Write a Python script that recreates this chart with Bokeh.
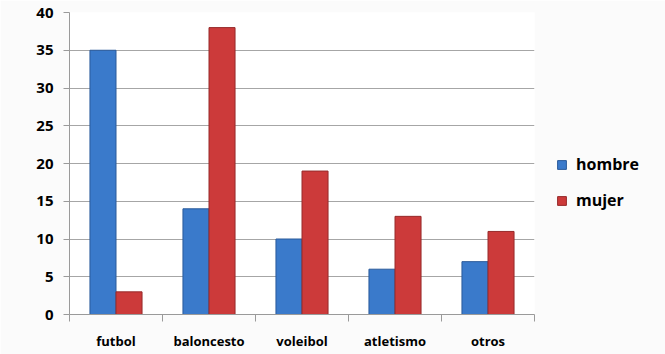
from bokeh.plotting import figure
from bokeh.models import ColumnDataSource, FixedTicker, Legend, LegendItem, Range1d
from bokeh.embed import file_html
from bokeh.resources import INLINE

categories = ["futbol", "baloncesto", "voleibol", "atletismo", "otros"]
hombre = [35, 14, 10, 6, 7]
mujer = [3, 38, 19, 13, 11]
y_ticks = [0, 5, 10, 15, 20, 25, 30, 35, 40]

bar_w = 0.28
centers = [i + 0.5 for i in range(len(categories))]

src_h = ColumnDataSource(dict(x=[c - bar_w / 2 for c in centers], top=hombre))
src_m = ColumnDataSource(dict(x=[c + bar_w / 2 for c in centers], top=mujer))

p = figure(frame_width=465, frame_height=302, output_backend="svg", toolbar_location=None,
           x_range=Range1d(0, len(categories)), y_range=Range1d(0, 40))
p.min_border_left = 69
p.min_border_top = 12
p.min_border_bottom = 40
p.min_border_right = 131
p.background_fill_color = "white"
p.border_fill_color = "#fbfbfb"
p.outline_line_color = None

r_h = p.vbar(x="x", top="top", width=bar_w, source=src_h,
             fill_color="#3a7acb", line_color="#2a5a9a", line_width=1)
r_m = p.vbar(x="x", top="top", width=bar_w, source=src_m,
             fill_color="#cc3a3a", line_color="#962a2a", line_width=1)

# x axis: labels at centers, ticks at boundaries
p.xaxis.ticker = FixedTicker(ticks=centers, minor_ticks=list(range(len(categories) + 1)))
p.xaxis.major_label_overrides = {c: categories[i] for i, c in enumerate(centers)}
p.xaxis.major_tick_line_color = None
p.xaxis.minor_tick_line_color = "#9a9a9a"
p.xaxis.minor_tick_in = 0
p.xaxis.minor_tick_out = 7
p.xaxis.axis_line_color = "#9a9a9a"
p.xaxis.major_label_standoff = 10
p.xaxis.major_label_text_font = "Open Sans"
p.xaxis.major_label_text_font_style = "bold"
p.xaxis.major_label_text_font_size = "13px"
p.xaxis.major_label_text_color = "black"

p.yaxis.ticker = FixedTicker(ticks=y_ticks)
p.yaxis.major_tick_line_color = "#9a9a9a"
p.yaxis.major_tick_in = 0
p.yaxis.major_tick_out = 6
p.yaxis.minor_tick_line_color = None
p.yaxis.axis_line_color = "#9a9a9a"
p.yaxis.major_label_standoff = 10
p.yaxis.major_label_text_font = "Open Sans"
p.yaxis.major_label_text_font_style = "bold"
p.yaxis.major_label_text_font_size = "15px"
p.yaxis.major_label_text_color = "black"

p.xgrid.grid_line_color = None
p.ygrid.grid_line_color = "#a6a6a6"
p.ygrid.ticker = FixedTicker(ticks=y_ticks)

legend = Legend(items=[LegendItem(label="hombre", renderers=[r_h]),
                       LegendItem(label="mujer", renderers=[r_m])],
                location=(22, 103))
legend.label_text_font = "Open Sans"
legend.label_text_font_style = "bold"
legend.label_text_font_size = "16px"
legend.label_text_color = "black"
legend.glyph_width = 11
legend.glyph_height = 11
legend.label_standoff = 9
legend.spacing = 14
legend.border_line_color = None
legend.background_fill_alpha = 0
legend.margin = 0
legend.padding = 0
p.add_layout(legend, "right")

open("out.html", "w").write(file_html(p, INLINE))
